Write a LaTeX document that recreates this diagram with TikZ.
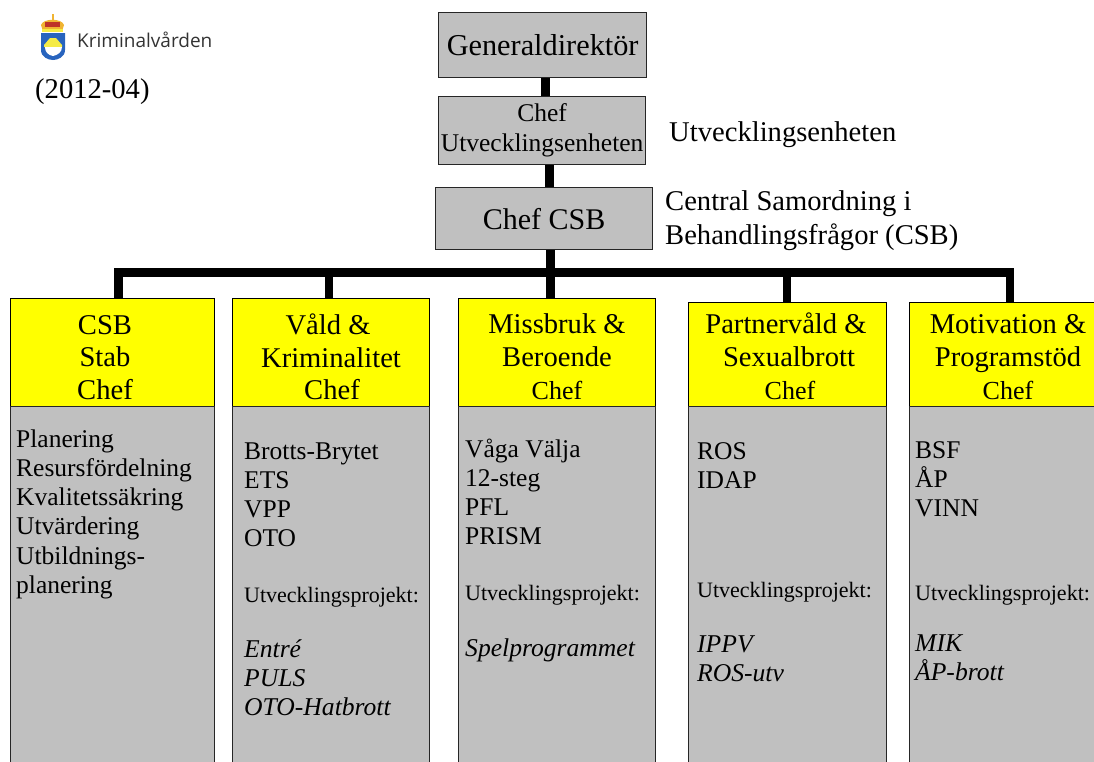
\documentclass[tikz,border=0pt]{standalone}
\usepackage{fontspec}
\setmainfont{Liberation Serif}
\newfontfamily\logofont{Open Sans}
\newcommand{\fs}[2]{\fontsize{#1}{#2}\selectfont}
\newcommand{\firstline}{\rule{0pt}{20pt}}
\definecolor{boxgrey}{RGB}{192,192,192}
\definecolor{headyellow}{RGB}{255,255,0}
\definecolor{shieldblue}{RGB}{40,100,190}
\definecolor{crowngold}{RGB}{240,180,50}
\definecolor{crownred}{RGB}{190,50,40}
\definecolor{hillyellow}{RGB}{245,235,70}
\tikzset{
  x=1pt,y=-1pt,
  greybox/.style={draw=black!85,line width=1.3pt,fill=boxgrey,inner sep=0pt,anchor=north west,font=\fs{25}{29}},
  yellowbox/.style={draw=black,line width=1.3pt,fill=headyellow,inner sep=0pt,anchor=north west},
  conn/.style={draw=black,line width=8.8pt,line join=miter},
  block/.style={anchor=north west,inner sep=0pt,align=left,font=\fs{25.5}{29.2}},
  smallblock/.style={block,font=\fs{22}{26}},
  projects/.style={block,font=\fs{25.6}{29}\itshape},
  headtext/.style={anchor=north,inner sep=0pt,align=center},
  side/.style={anchor=north west,inner sep=0pt,align=left,font=\fs{28.6}{34}}
}
\begin{document}
\begin{tikzpicture}
\useasboundingbox (0,0) rectangle (1094,761);
% logo
\begin{scope}
\clip (78,20) rectangle (211,60);
\node[anchor=base west,inner sep=0pt,font=\logofont\fs{19}{22},text=black!80] (logotext) at (77,47.5) {Kriminalvården};
\end{scope}
\fill[crowngold] (51.5,14) rectangle (53.5,20);
\fill[crowngold] (41,25) .. controls (43,18) and (62,18) .. (64,25) -- (62,31) -- (43,31) -- cycle;
\fill[crownred] (45,22) rectangle (60,27);
\fill[hillyellow] (42,29) rectangle (63,31.5);
\fill[shieldblue] (41,33) -- (65,33) -- (65,50) .. controls (65,57) and (58,60) .. (53,60) .. controls (48,60) and (41,57) .. (41,50) -- cycle;
\fill[hillyellow] (44,45) -- (50,38) -- (56,38) -- (62,45) -- (62,47) -- (44,47) -- cycle;
\fill[white] (45,47) -- (62,47) .. controls (62,52) and (58,55) .. (53,56) .. controls (48,55) and (45,52) .. (45,47) -- cycle;
\node[anchor=base west,inner sep=0pt,font=\fs{28.6}{32}] (date) at (35,98) {(2012-04)};
% top boxes
\node[greybox,minimum width=208pt,minimum height=65pt,font=\fs{30.3}{36}] (gen) at (438,12) {Generaldirektör};
\node[greybox,minimum width=207pt,minimum height=68pt,align=center,font=\fs{25.5}{30}] (ue) at (438,96) {Chef\\Utvecklingsenheten};
\node[greybox,minimum width=217pt,minimum height=62pt,font=\fs{30}{34}] (csb) at (435,187) {Chef CSB};
\node[side] (uelabel) at (669,121) {\firstline Utvecklingsenheten};
\node[side] (csblabel) at (665,190) {\firstline Central Samordning i\\Behandlingsfrågor (CSB)};
% columns
\node[yellowbox,minimum width=204pt,minimum height=108pt] (h1) at (10,298) {};
\node[yellowbox,minimum width=197pt,minimum height=108pt] (h2) at (232,298) {};
\node[yellowbox,minimum width=197pt,minimum height=108pt] (h3) at (458,298) {};
\node[yellowbox,minimum width=198pt,minimum height=104pt] (h4) at (688,302) {};
\node[yellowbox,minimum width=200pt,minimum height=104pt] (h5) at (909,302) {};
\node[greybox,minimum width=204pt,minimum height=370pt] (b1) at (10,406) {};
\node[greybox,minimum width=197pt,minimum height=370pt] (b2) at (232,406) {};
\node[greybox,minimum width=197pt,minimum height=370pt] (b3) at (458,406) {};
\node[greybox,minimum width=198pt,minimum height=370pt] (b4) at (688,406) {};
\node[greybox,minimum width=200pt,minimum height=370pt] (b5) at (909,406) {};
% connectors
\coordinate (busL) at (118.5,272.7);
\coordinate (busR) at (1010,272.7);
\coordinate (bus2) at (329,272.7);
\coordinate (bus4) at (787,272.7);
\draw[conn] ([xshift=3pt]gen.south) -- ([xshift=3pt]gen.south |- ue.north);
\draw[conn] ([xshift=7.5pt]ue.south) -- ([xshift=7.5pt]ue.south |- csb.north);
\draw[conn] ([xshift=6.5pt]csb.south) -- ([xshift=6.5pt]csb.south |- h3.north);
\draw[conn] (busL |- h1.north) -- (busL) -- (busR) -- (busR |- h5.north);
\draw[conn] (bus2) -- (bus2 |- h2.north);
\draw[conn] (bus4) -- (bus4 |- h4.north);
% header texts
\node[headtext,font=\fs{28.6}{32.4}] (t1) at (105,314) {\firstline CSB\\Stab\\Chef};
\node[headtext,font=\fs{28.6}{32.4}] (t2) at (328,314) {\firstline Våld \&\\\hspace*{6pt}Kriminalitet\\\hspace*{8pt}Chef};
\node[headtext,font=\fs{28.6}{33}] (t3) at (557,313) {\firstline Missbruk \&\\Beroende\\{\fs{26}{30}Chef}};
\node[headtext,font=\fs{28.6}{33}] (t4) at (786,313) {\firstline Partnervåld \&\\\hspace*{6pt}Sexualbrott\\\hspace*{8pt}{\fs{26}{30}Chef}};
\node[headtext,font=\fs{28.6}{33}] (t5) at (1008,313) {\firstline Motivation \&\\Programstöd\\{\fs{26}{30}Chef}};
% column 1
\node[block] (l1) at (16,427) {\firstline Planering\\Resursfördelning\\Kvalitetssäkring\\Utvärdering\\Utbildnings-\\planering};
% column 2
\node[block] (l2) at (244,439) {\firstline Brotts-Brytet\\ETS\\VPP\\OTO};
\node[smallblock] (u2) at (244,582) {\firstline Utvecklingsprojekt:};
\node[projects] (p2) at (244,637) {\firstline Entré\\PULS\\OTO-Hatbrott};
% column 3
\node[block] (l3) at (465,437) {\firstline Våga Välja\\12-steg\\PFL\\PRISM};
\node[smallblock] (u3) at (465,580) {\firstline Utvecklingsprojekt:};
\node[projects] (p3) at (465,636) {\firstline Spelprogrammet};
% column 4
\node[block] (l4) at (697,439) {\firstline ROS\\IDAP};
\node[smallblock] (u4) at (697,577) {\firstline Utvecklingsprojekt:};
\node[projects] (p4) at (697,632) {\firstline IPPV\\ROS-utv};
% column 5
\node[block] (l5) at (915,438) {\firstline BSF\\ÅP\\VINN};
\node[smallblock] (u5) at (915,580) {\firstline Utvecklingsprojekt:};
\node[projects] (p5) at (915,631) {\firstline MIK\\ÅP-brott};
\end{tikzpicture}
\end{document}
